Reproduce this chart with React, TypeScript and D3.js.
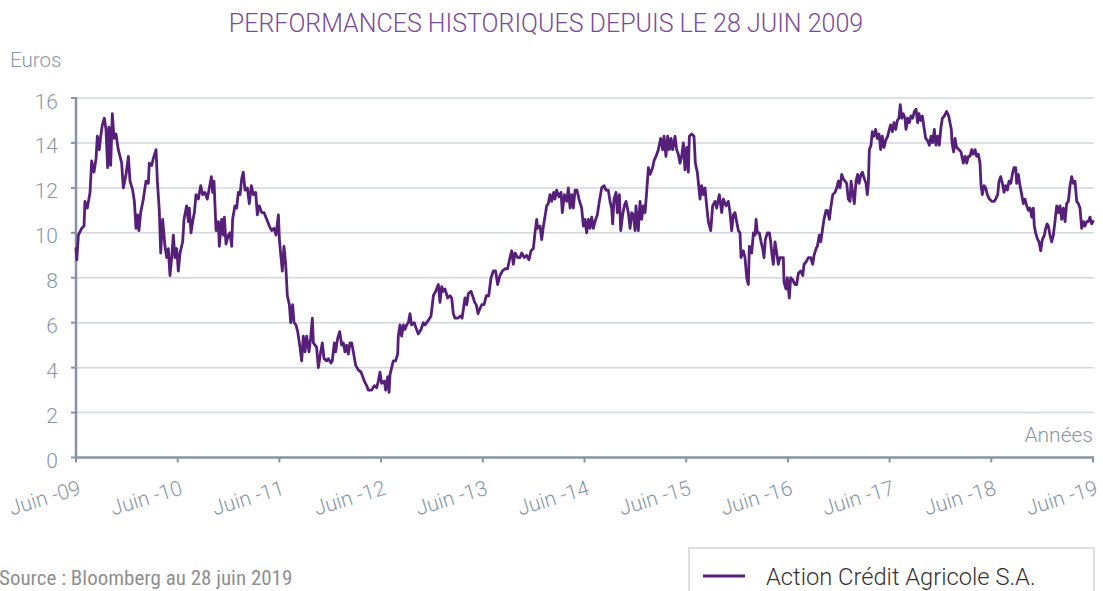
import React from "react";
import * as d3 from "d3";

// Years elapsed since 28 June 2009, price in euros
const period2009to2011: [number, number][] = [
  [0, 9.3], [0.008, 8.8], [0.023, 9.9], [0.056, 10.2], [0.079, 10.3], [0.088, 11.4], [0.111, 11.1], [0.138, 11.8],
  [0.154, 13.2], [0.177, 12.7], [0.197, 13.3], [0.21, 14.3], [0.229, 13.7], [0.243, 14.3], [0.259, 14.8], [0.279, 15.1],
  [0.295, 14.6], [0.311, 12.9], [0.324, 14.7], [0.341, 13.0], [0.357, 15.3], [0.374, 14.2], [0.393, 14.4], [0.416, 13.7],
  [0.433, 13.4], [0.449, 13.1], [0.465, 12.0], [0.492, 12.6], [0.515, 13.4], [0.531, 12.3], [0.557, 11.9], [0.574, 11.4],
  [0.59, 10.2], [0.606, 10.8], [0.619, 10.1], [0.636, 10.9], [0.662, 11.5], [0.688, 12.3], [0.711, 12.2], [0.721, 13.1],
  [0.744, 13.0], [0.76, 13.3], [0.787, 13.7], [0.8, 12.3], [0.819, 11.0], [0.833, 9.1], [0.852, 10.6], [0.875, 9.4],
  [0.892, 8.9], [0.908, 9.3], [0.924, 8.1], [0.941, 8.9], [0.957, 9.9], [0.973, 8.9], [0.99, 9.3], [1.006, 8.3],
  [1.023, 9.1], [1.049, 9.6], [1.062, 10.6], [1.088, 11.2], [1.105, 10.5], [1.114, 11.1], [1.131, 10.0], [1.147, 10.5],
  [1.164, 10.9], [1.18, 11.7], [1.203, 11.5], [1.226, 12.1], [1.245, 11.7], [1.268, 11.8], [1.291, 11.5], [1.311, 12.0],
  [1.331, 12.5], [1.344, 11.8], [1.357, 12.3], [1.377, 10.1], [1.4, 10.5], [1.409, 9.4], [1.432, 10.6], [1.449, 9.9],
  [1.459, 10.7], [1.475, 9.5], [1.498, 9.9], [1.514, 10.0], [1.531, 9.4], [1.54, 10.6], [1.563, 11.2], [1.58, 11.1],
  [1.596, 11.8], [1.613, 11.7], [1.629, 12.4], [1.645, 12.7], [1.662, 11.9], [1.685, 12.0], [1.704, 11.3], [1.724, 12.1],
  [1.744, 11.7], [1.767, 11.8], [1.783, 10.8], [1.803, 11.2], [1.826, 10.9], [1.849, 10.9], [1.875, 10.6], [1.901, 10.3],
  [1.924, 10.1], [1.947, 10.2], [1.967, 9.9], [1.99, 10.8], [2.0, 9.7], [2.012, 9.1], [2.029, 8.3], [2.045, 9.4],
  [2.062, 8.6], [2.078, 7.2], [2.098, 6.8], [2.111, 6.0], [2.13, 6.8], [2.144, 6.0], [2.163, 5.9], [2.18, 5.6],
  [2.203, 4.9], [2.219, 4.3], [2.235, 5.4], [2.252, 4.7], [2.268, 5.4], [2.291, 4.7], [2.307, 5.3], [2.324, 6.2],
  [2.334, 5.1], [2.35, 5.0], [2.366, 4.9], [2.383, 4.0], [2.406, 4.7], [2.422, 5.1], [2.439, 4.4],
];

const period2011to2014: [number, number][] = [
  [2.465, 4.3], [2.481, 4.4], [2.507, 4.2], [2.52, 4.3], [2.54, 5.1], [2.553, 4.7], [2.573, 5.3], [2.593, 5.6],
  [2.612, 5.0], [2.629, 5.1], [2.645, 4.7], [2.661, 5.0], [2.678, 4.6], [2.694, 5.1], [2.711, 5.1], [2.727, 4.7],
  [2.75, 4.1], [2.776, 3.9], [2.802, 3.8], [2.819, 3.6], [2.835, 3.4], [2.858, 3.2], [2.874, 3.0], [2.907, 3.0],
  [2.933, 3.2], [2.956, 3.1], [2.973, 3.4], [2.989, 3.8], [3.005, 3.3], [3.032, 3.4], [3.045, 3.0], [3.065, 3.6],
  [3.078, 2.9], [3.088, 3.7], [3.104, 4.0], [3.12, 4.3], [3.143, 4.3], [3.163, 4.6], [3.169, 5.4], [3.186, 5.9],
  [3.202, 5.4], [3.219, 5.9], [3.235, 5.7], [3.251, 5.9], [3.268, 6.0], [3.284, 6.4], [3.3, 5.9], [3.326, 6.0],
  [3.349, 5.7], [3.366, 5.5], [3.392, 5.7], [3.415, 6.0], [3.432, 5.9], [3.464, 6.1], [3.491, 6.3], [3.514, 7.2],
  [3.537, 7.4], [3.563, 7.7], [3.579, 6.9], [3.596, 7.6], [3.612, 7.4], [3.628, 7.5], [3.655, 7.1], [3.678, 7.2],
  [3.694, 7.1], [3.71, 6.4], [3.727, 6.2], [3.753, 6.2], [3.779, 6.3], [3.796, 6.2], [3.809, 6.6], [3.825, 7.1],
  [3.842, 6.8], [3.858, 7.3], [3.884, 7.4], [3.907, 7.1], [3.92, 6.9], [3.936, 6.8], [3.953, 6.4], [3.969, 6.6],
  [3.989, 6.8], [4.012, 6.8], [4.035, 7.2], [4.058, 7.2], [4.081, 8.0], [4.104, 8.3], [4.126, 8.3], [4.146, 7.7],
  [4.169, 8.1], [4.192, 8.3], [4.218, 8.4], [4.244, 8.4], [4.267, 8.9], [4.284, 9.2], [4.3, 8.6], [4.317, 9.1],
  [4.343, 8.9], [4.366, 8.9], [4.382, 9.1], [4.408, 8.9], [4.431, 9.0], [4.454, 8.8], [4.474, 9.2], [4.497, 9.3],
  [4.513, 10.0], [4.53, 10.6], [4.54, 10.2], [4.563, 10.3], [4.579, 9.7], [4.596, 10.3], [4.618, 10.9], [4.628, 11.2],
  [4.644, 11.3], [4.661, 11.7], [4.677, 11.4], [4.697, 11.8], [4.71, 11.5], [4.726, 11.9], [4.749, 11.6], [4.769, 11.8],
  [4.782, 10.9], [4.802, 11.7], [4.825, 11.4], [4.841, 12.0], [4.858, 11.1], [4.874, 11.7], [4.89, 11.1], [4.907, 11.9],
  [4.926, 11.9], [4.946, 11.5],
];

const period2014to2016: [number, number][] = [
  [4.972, 11.1], [4.989, 10.3], [5.005, 10.6], [5.021, 10.0], [5.038, 10.6], [5.054, 10.2], [5.071, 10.7], [5.087, 10.2],
  [5.103, 10.5], [5.126, 10.8], [5.146, 11.4], [5.169, 12.0], [5.192, 12.1], [5.211, 11.9], [5.234, 11.9], [5.251, 11.4],
  [5.267, 11.1], [5.277, 10.4], [5.29, 11.5], [5.31, 11.8], [5.323, 10.9], [5.343, 11.7], [5.356, 10.1], [5.375, 10.8],
  [5.392, 11.2], [5.408, 11.4], [5.431, 10.9], [5.448, 10.2], [5.464, 10.9], [5.48, 10.8], [5.497, 10.1], [5.506, 11.2],
  [5.529, 10.1], [5.546, 11.4], [5.562, 10.6], [5.579, 11.2], [5.595, 10.9], [5.611, 11.8], [5.628, 12.9], [5.644, 12.6],
  [5.67, 12.9], [5.683, 13.2], [5.703, 13.4], [5.726, 13.7], [5.749, 14.2], [5.769, 13.7], [5.782, 14.3], [5.801, 13.4],
  [5.818, 14.3], [5.834, 13.7], [5.851, 14.2], [5.867, 13.7], [5.89, 14.3], [5.906, 13.7], [5.923, 13.5], [5.939, 13.1],
  [5.955, 13.4], [5.972, 14.0], [5.988, 12.8], [6.005, 13.8], [6.021, 12.7], [6.031, 14.3], [6.054, 14.4], [6.077, 14.3],
  [6.09, 13.1], [6.109, 12.7], [6.123, 12.1], [6.136, 11.5], [6.152, 12.1], [6.169, 11.7], [6.185, 12.0], [6.201, 11.2],
  [6.218, 10.5], [6.241, 10.1], [6.26, 11.2], [6.283, 11.4], [6.3, 11.1], [6.326, 11.7], [6.349, 10.9], [6.365, 11.5],
  [6.391, 11.2], [6.414, 11.4], [6.431, 10.9], [6.447, 10.1], [6.464, 10.8], [6.48, 10.9], [6.496, 10.5], [6.513, 10.1],
  [6.529, 10.0], [6.539, 8.9], [6.562, 9.2], [6.578, 8.9], [6.595, 8.0], [6.611, 7.7], [6.621, 9.4], [6.644, 9.1],
  [6.661, 10.0], [6.677, 9.9], [6.687, 10.6], [6.7, 10.0], [6.719, 10.0], [6.736, 9.6], [6.752, 9.3], [6.765, 8.9],
  [6.778, 9.7], [6.798, 10.0], [6.818, 10.0], [6.831, 9.6], [6.844, 9.0], [6.857, 8.6], [6.873, 9.6], [6.89, 9.1],
  [6.906, 8.6], [6.922, 8.9], [6.939, 8.9], [6.955, 8.9], [6.962, 7.8], [6.981, 7.5], [6.994, 8.0], [7.014, 7.1],
  [7.027, 8.0], [7.047, 7.9], [7.07, 7.7], [7.086, 7.7], [7.103, 8.2], [7.126, 8.3], [7.146, 8.1], [7.159, 8.6],
  [7.178, 8.7], [7.201, 8.9], [7.224, 8.9], [7.244, 8.6], [7.257, 9.0], [7.277, 9.3], [7.29, 9.4], [7.309, 9.9],
  [7.323, 9.6], [7.342, 10.2], [7.355, 10.6], [7.375, 11.0], [7.388, 11.0], [7.408, 10.6], [7.421, 11.1], [7.441, 11.7],
];

const period2016to2019: [number, number][] = [
  [7.463, 11.8], [7.48, 12.0], [7.496, 12.3], [7.512, 12.0], [7.529, 12.6], [7.545, 12.4], [7.562, 12.3], [7.578, 12.2],
  [7.594, 11.5], [7.611, 11.4], [7.621, 12.3], [7.637, 11.8], [7.653, 11.3], [7.67, 12.3], [7.686, 12.6], [7.699, 12.2],
  [7.719, 12.6], [7.732, 12.7], [7.752, 12.4], [7.768, 12.2], [7.781, 11.7], [7.791, 12.2], [7.801, 13.7], [7.817, 13.9],
  [7.83, 14.5], [7.846, 14.3], [7.863, 14.6], [7.879, 14.2], [7.896, 14.4], [7.912, 13.7], [7.928, 14.3], [7.945, 13.8],
  [7.961, 14.1], [7.981, 14.3], [7.997, 14.6], [8.01, 14.8], [8.027, 14.5], [8.043, 14.9], [8.06, 14.6], [8.076, 15.0],
  [8.092, 15.1], [8.105, 15.7], [8.119, 15.1], [8.135, 15.3], [8.151, 15.1], [8.161, 14.6], [8.178, 15.1], [8.194, 14.9],
  [8.21, 15.2], [8.227, 15.1], [8.243, 15.4], [8.26, 15.5], [8.276, 14.9], [8.289, 15.3], [8.306, 15.0], [8.322, 15.2],
  [8.338, 14.7], [8.355, 14.2], [8.374, 14.1], [8.391, 13.9], [8.407, 14.3], [8.423, 14.0], [8.44, 14.6], [8.456, 13.9],
  [8.473, 14.3], [8.489, 13.9], [8.505, 14.7], [8.519, 15.1], [8.538, 15.2], [8.561, 15.4], [8.581, 15.2], [8.594, 14.9],
  [8.607, 14.6], [8.614, 14.0], [8.63, 13.6], [8.643, 14.2], [8.659, 13.8], [8.682, 13.7], [8.702, 13.6], [8.725, 13.1],
  [8.741, 13.4], [8.758, 13.1], [8.774, 13.4], [8.79, 13.4], [8.807, 13.7], [8.823, 13.5], [8.84, 13.7], [8.856, 13.4],
  [8.873, 13.5], [8.889, 13.1], [8.899, 12.1], [8.912, 11.7], [8.928, 12.1], [8.945, 12.0], [8.961, 11.7], [8.981, 11.5],
  [9.004, 11.4], [9.027, 11.4], [9.043, 11.5], [9.063, 11.7], [9.076, 12.3], [9.092, 12.5], [9.109, 12.2], [9.125, 11.8],
  [9.141, 12.1], [9.158, 11.9], [9.174, 12.3], [9.191, 12.2], [9.207, 12.6], [9.223, 12.9], [9.24, 12.9], [9.249, 12.2],
  [9.266, 12.6], [9.282, 12.1], [9.299, 11.7], [9.315, 11.3], [9.331, 11.5], [9.348, 11.2], [9.364, 11.0], [9.381, 11.1],
  [9.397, 10.7], [9.413, 11.1], [9.423, 10.3], [9.436, 10.0], [9.456, 9.7], [9.469, 9.6], [9.486, 9.2], [9.502, 9.7],
  [9.522, 9.9], [9.535, 10.2], [9.548, 10.4], [9.561, 10.3], [9.577, 9.9], [9.594, 9.6], [9.61, 9.9], [9.626, 10.5],
  [9.643, 11.2], [9.659, 10.9], [9.676, 11.2], [9.692, 10.6], [9.709, 11.1], [9.725, 10.5], [9.741, 11.3], [9.758, 11.4],
  [9.774, 12.1], [9.79, 12.5], [9.807, 12.2], [9.823, 12.3], [9.84, 11.4], [9.856, 11.3], [9.872, 11.1], [9.889, 10.2],
  [9.905, 10.5], [9.921, 10.3], [9.938, 10.5], [9.954, 10.5], [9.971, 10.7], [9.987, 10.4], [10.0, 10.5],
];

const xTickLabels = [
  "Juin -09", "Juin -10", "Juin -11", "Juin -12", "Juin -13", "Juin -14",
  "Juin -15", "Juin -16", "Juin -17", "Juin -18", "Juin -19",
];
const yTicks = [0, 2, 4, 6, 8, 10, 12, 14, 16];

const TITLE = "PERFORMANCES HISTORIQUES DEPUIS LE 28 JUIN 2009";
const SERIES_NAME = "Action Crédit Agricole S.A.";
const SOURCE = "Source : Bloomberg au 28 juin 2019";

export default function App() {
  const W = 1103;
  const H = 591;
  const left = 76;
  const right = 1093;
  const top = 98;
  const bottom = 457.5;

  const series = [...period2009to2011, ...period2011to2014, ...period2014to2016, ...period2016to2019];

  const x = d3.scaleLinear().domain([0, xTickLabels.length - 1]).range([left, right]);
  const y = d3.scaleLinear().domain([0, 16]).range([bottom, top]);

  const line = d3
    .line<[number, number]>()
    .x((d) => x(d[0]))
    .y((d) => y(d[1]));

  const purple = "#561f79";
  const axisColor = "#8594a2";
  const gridColor = "#d1d6df";
  const labelColor = "#8797a7";
  const font = "Roboto, 'Open Sans', sans-serif";

  return (
    <svg
      width={W}
      height={H}
      style={{ position: "absolute", left: 0, top: 0, background: "#fff" }}
      fontFamily={font}
    >
      <text x={546} y={32} textAnchor="middle" fontSize={25} fontWeight={300} fill="#7a4a9c">
        {TITLE}
      </text>
      <text x={10} y={67} fontSize={20.5} fontWeight={300} fill={labelColor}>
        Euros
      </text>

      {yTicks.map((v) => (
        <g key={v}>
          {v > 0 && (
            <line x1={left} x2={right + 1} y1={y(v)} y2={y(v)} stroke={gridColor} strokeWidth={1.5} />
          )}
          <line x1={left - 5} x2={left} y1={y(v)} y2={y(v)} stroke={axisColor} strokeWidth={2} />
          <text x={58} y={y(v) + 10.5} textAnchor="end" fontSize={21} fontWeight={300} fill={labelColor}>
            {v}
          </text>
        </g>
      ))}

      <line x1={left} x2={left} y1={top - 1} y2={bottom + 1} stroke={axisColor} strokeWidth={2.5} />
      <line x1={left - 1} x2={right + 1} y1={bottom} y2={bottom} stroke={axisColor} strokeWidth={2.5} />

      {xTickLabels.map((lab, i) => (
        <g key={lab}>
          <line x1={x(i)} x2={x(i)} y1={bottom} y2={bottom + 5} stroke={axisColor} strokeWidth={2} />
          <text
            transform={`translate(${x(i) + 6},${494}) rotate(-17)`}
            textAnchor="end"
            fontSize={21}
            fontWeight={300}
            fill={labelColor}
          >
            {lab}
          </text>
        </g>
      ))}

      <text x={right} y={442} textAnchor="end" fontSize={21} fontWeight={300} fill={labelColor}>
        Années
      </text>

      <path
        d={line(series) || ""}
        fill="none"
        stroke={purple}
        strokeWidth={2.8}
        strokeLinejoin="round"
        strokeLinecap="round"
      />

      <text x={-1} y={585} fontSize={21} fill="#8f8f8f" style={{ fontStretch: "condensed" }}>
        {SOURCE}
      </text>

      <rect x={689} y={548} width={405} height={60} fill="#fff" stroke="#d4d4d4" strokeWidth={1.5} />
      <line x1={703} x2={745} y1={576} y2={576} stroke={purple} strokeWidth={3} />
      <text x={766} y={585} fontSize={23.7} fontWeight={300} fill="#333">
        {SERIES_NAME}
      </text>
    </svg>
  );
}
